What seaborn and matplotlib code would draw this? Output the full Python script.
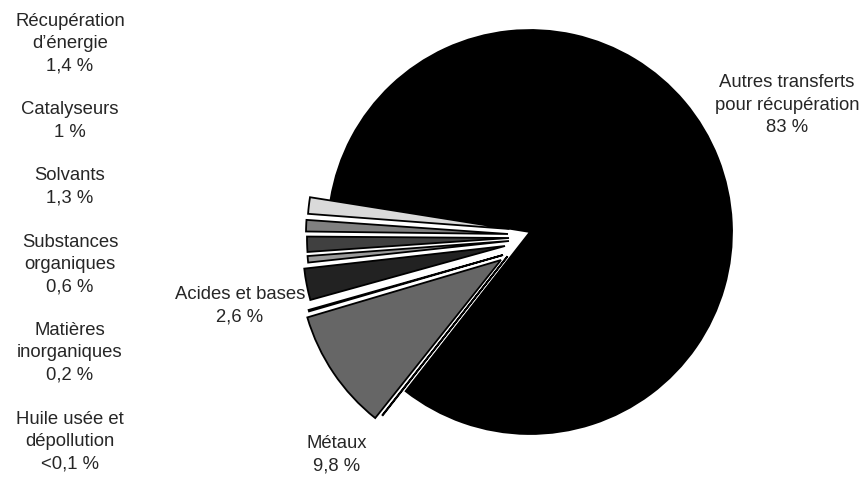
import matplotlib
matplotlib.use("Agg")
import matplotlib.pyplot as plt
import seaborn as sns

# Share of transfers for recovery, by category (in drawing order, counter-clockwise)
categories = [
    "Autres transferts\npour récupération",
    "Récupération\nd’énergie",
    "Catalyseurs",
    "Solvants",
    "Substances\norganiques",
    "Acides et bases",
    "Matières\ninorganiques",
    "Métaux",
    "Huile usée et\ndépollution",
]
values = [83, 1.4, 1, 1.3, 0.6, 2.6, 0.2, 9.8, 0.1]
value_labels = ["83 %", "1,4 %", "1 %", "1,3 %", "0,6 %", "2,6 %", "0,2 %", "9,8 %", "<0,1 %"]
colors = ["#000000", "#dadada", "#808080", "#404040", "#9a9a9a",
          "#222222", "#1a1a1a", "#666666", "#111111"]

# How far each slice is pulled out of the pie (pixels, x right / y up)
slice_offsets = [(0, 0), (-20.5, 3), (-22, -2), (-21, -6), (-21, -9),
                 (-25, -14), (-27, -23), (-29, -28), (-22.5, -24.3)]

sns.set_theme(style="white")
plt.rcParams["font.family"] = ["Liberation Sans", "DejaVu Sans"]

W, H = 863, 479
CX, CY, R = 530, H - 232, 202
fig = plt.figure(figsize=(W / 100, H / 100), dpi=100)
ax = fig.add_axes([0, 0, 1, 1])

wedges, _ = ax.pie(
    values,
    colors=colors,
    startangle=232,
    counterclock=True,
    center=(CX, CY),
    radius=R,
    wedgeprops=dict(edgecolor="black", linewidth=1.3),
    frame=True,
)

# pull the small slices out and leave a thin white gap between them
for w, (dx, dy) in zip(wedges[1:], slice_offsets[1:]):
    span = w.theta2 - w.theta1
    g = min(0.15, max(0.0, (span - 0.12) / 2))
    w.set_theta1(w.theta1 + g)
    w.set_theta2(w.theta2 - g)
    w.set_center((CX + dx, CY + dy))

ax.set_xlim(0, W)
ax.set_ylim(0, H)
ax.set_aspect("equal")
ax.axis("off")

fs = 13.3
ls = 1.42
# Labels placed next to the large slices
ax.text(787, H - 105, f"{categories[0]}\n{value_labels[0]}", ha="center", va="center",
        fontsize=fs, linespacing=ls)
ax.text(240, H - 306, f"{categories[5]}\n{value_labels[5]}", ha="center", va="center",
        fontsize=fs, linespacing=ls)
ax.text(337, H - 455, f"{categories[7]}\n{value_labels[7]}", ha="center", va="center",
        fontsize=fs, linespacing=ls)

# Small categories listed in a column on the left
left_items = [1, 2, 3, 4, 6, 8]
left_y = [43.5, 121, 186.5, 264.5, 352.5, 442]
for i, y in zip(left_items, left_y):
    ax.text(70, H - y, f"{categories[i]}\n{value_labels[i]}", ha="center", va="center",
            fontsize=fs, linespacing=ls)

fig.savefig("out.png", dpi=100, facecolor="white")
